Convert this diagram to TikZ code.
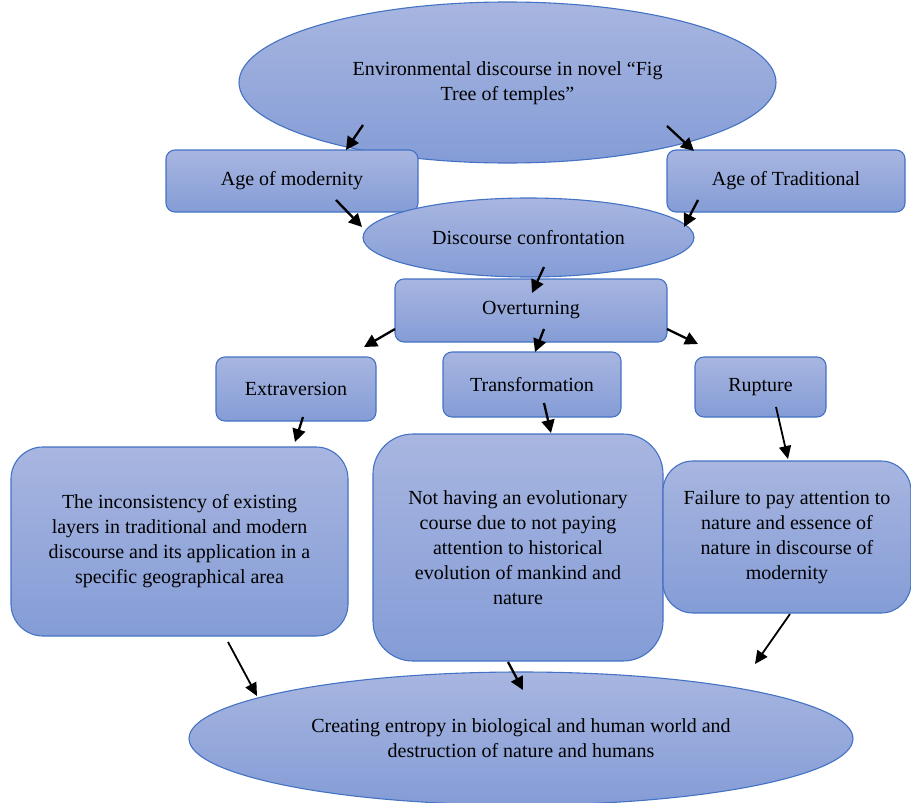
\documentclass[tikz,border=0pt]{standalone}
\usepackage{fontspec}
\setmainfont{Liberation Serif}
\usetikzlibrary{shapes.geometric,arrows.meta}
\definecolor{fillTop}{RGB}{168,182,224}
\definecolor{fillBot}{RGB}{132,156,214}
\definecolor{edgeBlue}{RGB}{68,114,196}
\tikzset{
  shp/.style={draw=edgeBlue, line width=1.1pt, top color=fillTop, bottom color=fillBot,
    inner sep=0pt, outer sep=0pt, align=center, text=black,
    font=\fontsize{20}{25}\selectfont},
  ell/.style={shp, ellipse},
  smallbox/.style={shp, rectangle, rounded corners=9pt},
  bigbox/.style={shp, rectangle, rounded corners=#1},
  arr/.style={line width=2.3pt, -{Triangle[length=13pt,width=13pt]}},
  thinarr/.style={line width=1.8pt, -{Triangle[length=13pt,width=12pt]}}
}
\begin{document}
\begin{tikzpicture}[x=1pt,y=-1pt]
\useasboundingbox (0,0) rectangle (911,803);

% nodes
\node[ell, minimum width=537pt, minimum height=161pt] (top) at (507.5,82.5) {\raisebox{-9pt}{\begin{tabular}{@{}c@{}}Environmental discourse in novel “Fig\\Tree of temples”\end{tabular}}};
\node[smallbox, minimum width=252pt, minimum height=62pt] (mod) at (292,181) {\raisebox{-2pt}{Age of modernity}};
\node[smallbox, minimum width=238pt, minimum height=62pt] (trad) at (786,181) {\raisebox{-2pt}{Age of Traditional}};
\node[ell, minimum width=331pt, minimum height=79pt] (conf) at (528.5,237.5) {Discourse confrontation};
\node[smallbox, minimum width=272pt, minimum height=63pt] (over) at (531,310.5) {Overturning};
\node[smallbox, minimum width=160pt, minimum height=64pt] (extra) at (296,389) {Extraversion};
\node[smallbox, minimum width=178pt, minimum height=65pt] (trans) at (532,384.5) {Transformation};
\node[smallbox, minimum width=131pt, minimum height=60pt] (rup) at (760.5,387) {Rupture};
\node[bigbox=32pt, minimum width=337pt, minimum height=189pt] (lbox) at (179.5,541.5)
  {The inconsistency of existing\\layers in traditional and modern\\discourse and its application in a\\specific geographical area};
\node[bigbox=40pt, minimum width=290pt, minimum height=227pt] (mbox) at (518,547.5)
  {Not having an evolutionary\\course due to not paying\\attention to historical\\evolution of mankind and\\nature};
\node[bigbox=30pt, minimum width=248pt, minimum height=152pt] (rbox) at (787,537)
  {Failure to pay attention to\\nature and essence of\\nature in discourse of\\modernity};
\node[ell, minimum width=664pt, minimum height=133pt] (bot) at (521,738.5)
  {Creating entropy in biological and human world and\\destruction of nature and humans};

% arrow end points
\coordinate (a1s) at (363,125);   \coordinate (a1e) at (346,150);
\coordinate (a2s) at (667,126);   \coordinate (a2e) at (694,151);
\coordinate (a3s) at (336,200);   \coordinate (a3e) at (362,227);
\coordinate (a4s) at (698,200);   \coordinate (a4e) at (684,227);
\coordinate (a5s) at (544,267);   \coordinate (a5e) at (532,293);
\coordinate (a6s) at (395,329);   \coordinate (a6e) at (364,347);
\coordinate (a7s) at (544,329);   \coordinate (a7e) at (535,352);
\coordinate (a8s) at (667,329);   \coordinate (a8e) at (698,344);
\coordinate (a9s) at (303,417);   \coordinate (a9e) at (295,442);
\coordinate (a10s) at (544,403); \coordinate (a10e) at (551,433);
\coordinate (a11s) at (776,407); \coordinate (a11e) at (788,459);
\coordinate (a12s) at (228,642); \coordinate (a12e) at (257,696);
\coordinate (a13s) at (508,662); \coordinate (a13e) at (523,690);
\coordinate (a14s) at (790,614); \coordinate (a14e) at (755,664);

\draw[arr] (a1s) -- (a1e);
\draw[arr] (a2s) -- (a2e);
\draw[arr] (a3s) -- (a3e);
\draw[arr] (a4s) -- (a4e);
\draw[arr] (a5s) -- (a5e);
\draw[arr] (a6s) -- (a6e);
\draw[arr] (a7s) -- (a7e);
\draw[arr] (a8s) -- (a8e);
\draw[arr] (a9s) -- (a9e);
\draw[arr] (a10s) -- (a10e);
\draw[thinarr] (a11s) -- (a11e);
\draw[thinarr] (a12s) -- (a12e);
\draw[arr] (a13s) -- (a13e);
\draw[thinarr] (a14s) -- (a14e);
\end{tikzpicture}
\end{document}
